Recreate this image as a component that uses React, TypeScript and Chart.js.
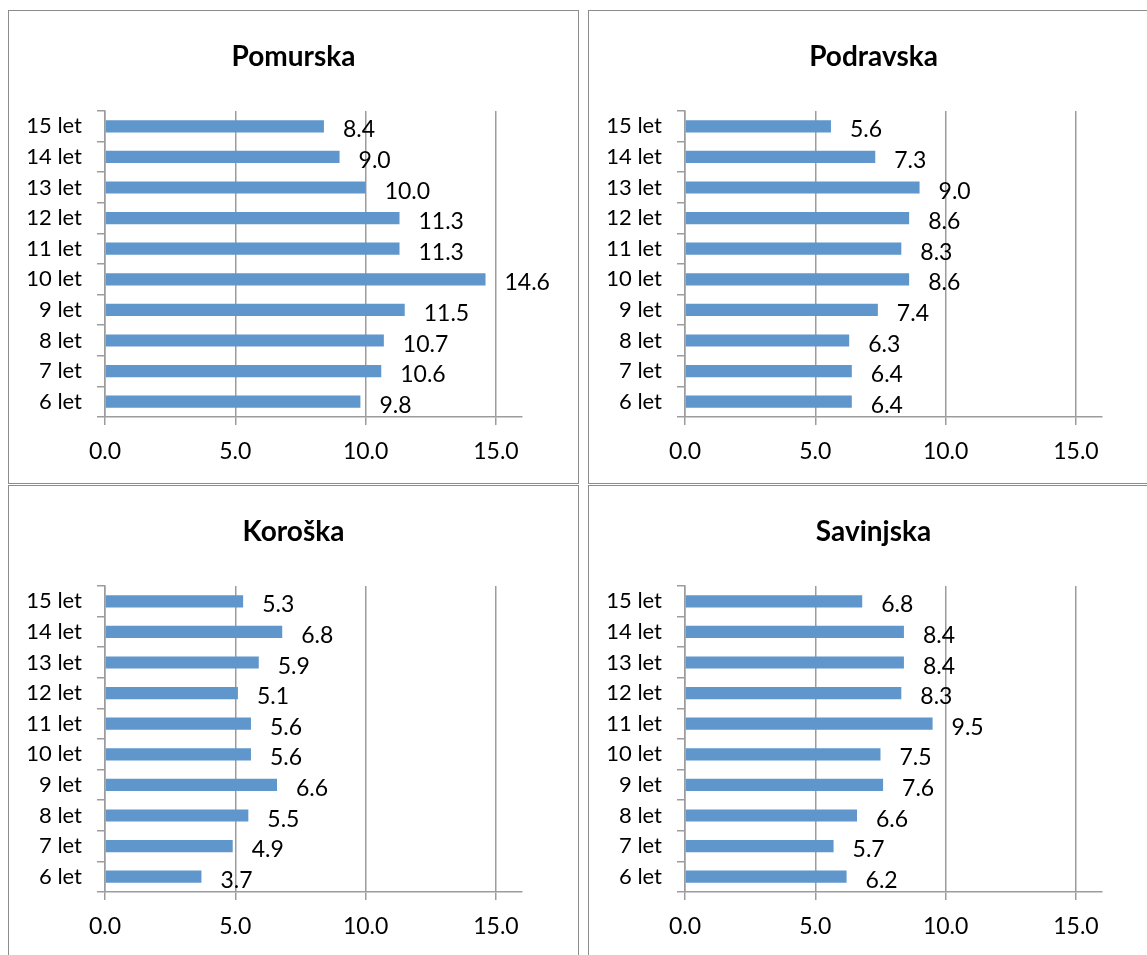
import React, { useEffect, useRef } from "react";
import { Chart, registerables } from "chart.js";

Chart.register(...registerables);

// ---- data ----
const categories = ["15 let", "14 let", "13 let", "12 let", "11 let", "10 let", "9 let", "8 let", "7 let", "6 let"];
const pomurska = [8.4, 9.0, 10.0, 11.3, 11.3, 14.6, 11.5, 10.7, 10.6, 9.8];
const podravska = [5.6, 7.3, 9.0, 8.6, 8.3, 8.6, 7.4, 6.3, 6.4, 6.4];
const koroska = [5.3, 6.8, 5.9, 5.1, 5.6, 5.6, 6.6, 5.5, 4.9, 3.7];
const savinjska = [6.8, 8.4, 8.4, 8.3, 9.5, 7.5, 7.6, 6.6, 5.7, 6.2];
const xTicks = [0, 5, 10, 15];
const xMin = 0;
const xMax = 16;

// ---- styles ----
const FONT = "Lato, 'Open Sans', sans-serif";
const BAR_COLOR = "#5F96CC";
const LINE_COLOR = "#9C9C9C";
const LINE_W = 1.5;

const valueLabels = {
  id: "valueLabels",
  afterDatasetsDraw(chart: any) {
    const ctx = chart.ctx;
    const meta = chart.getDatasetMeta(0);
    const ds = chart.data.datasets[0];
    ctx.save();
    ctx.font = `23px ${FONT}`;
    ctx.fillStyle = "#000";
    ctx.textAlign = "left";
    ctx.textBaseline = "alphabetic";
    meta.data.forEach((bar: any, i: number) => {
      const v = ds.data[i] as number;
      ctx.fillText(v.toFixed(1), bar.x + 19, bar.y + 11);
    });
    ctx.restore();
  },
};

const centerTitle = {
  id: "centerTitle",
  afterDraw(chart: any, _args: any, opts: any) {
    const ctx = chart.ctx;
    ctx.save();
    ctx.font = `bold 28px ${FONT}`;
    ctx.fillStyle = "#000";
    ctx.textAlign = "center";
    ctx.textBaseline = "middle";
    ctx.fillText(opts.text, chart.width / 2, 46);
    ctx.restore();
  },
};

function Panel({ title, values, left, top }: { title: string; values: number[]; left: number; top: number }) {
  const ref = useRef<HTMLCanvasElement>(null);
  useEffect(() => {
    const chart = new Chart(ref.current as HTMLCanvasElement, {
      type: "bar",
      data: {
        labels: categories,
        datasets: [
          {
            data: values,
            backgroundColor: BAR_COLOR,
            borderWidth: 0,
            categoryPercentage: 1,
            barPercentage: 0.4,
          },
        ],
      },
      options: {
        indexAxis: "y",
        responsive: false,
        animation: false,
        layout: { padding: { left: 0, right: 56, top: 100, bottom: 0 } },
        plugins: {
          legend: { display: false },
          tooltip: { enabled: false },
          title: { display: false },
          centerTitle: { text: title },
        },
        scales: {
          x: {
            type: "linear",
            min: xMin,
            max: xMax,
            afterBuildTicks: (s: any) => {
              s.ticks = xTicks.map((v) => ({ value: v }));
            },
            afterFit: (s: any) => {
              s.height = 66;
            },
            ticks: {
              color: "#000",
              font: { family: FONT, size: 23, lineHeight: 1.2 },
              padding: 13,
              maxRotation: 0,
              callback: (v: any) => Number(v).toFixed(1),
            },
            grid: {
              color: LINE_COLOR,
              lineWidth: LINE_W,
              drawTicks: true,
              tickLength: 8,
            },
            border: { color: LINE_COLOR, width: LINE_W },
          },
          y: {
            type: "category",
            afterFit: (s: any) => {
              s.width = 96;
            },
            ticks: {
              color: "#000",
              font: { family: FONT, size: 22, lineHeight: 1.2 },
              padding: 15,
            },
            grid: {
              color: LINE_COLOR,
              lineWidth: LINE_W,
              drawOnChartArea: false,
              drawTicks: true,
              tickLength: 8,
              offset: true,
            },
            border: { color: LINE_COLOR, width: LINE_W },
          },
        },
      },
      plugins: [valueLabels, centerTitle],
    } as any);
    return () => chart.destroy();
  }, []);
  return (
    <div
      style={{
        position: "absolute",
        left,
        top,
        width: 571,
        height: 474,
        boxSizing: "border-box",
        border: "1px solid #8c8c8c",
        background: "#fff",
      }}
    >
      <canvas ref={ref} width={569} height={472} style={{ display: "block" }} />
    </div>
  );
}

export default function App() {
  return (
    <div style={{ position: "fixed", left: 0, top: 0, width: 1147, height: 955, overflow: "hidden", background: "#fff" }}>
      <Panel title="Pomurska" values={pomurska} left={8} top={10} />
      <Panel title="Podravska" values={podravska} left={588} top={10} />
      <Panel title="Koroška" values={koroska} left={8} top={485} />
      <Panel title="Savinjska" values={savinjska} left={588} top={485} />
    </div>
  );
}
